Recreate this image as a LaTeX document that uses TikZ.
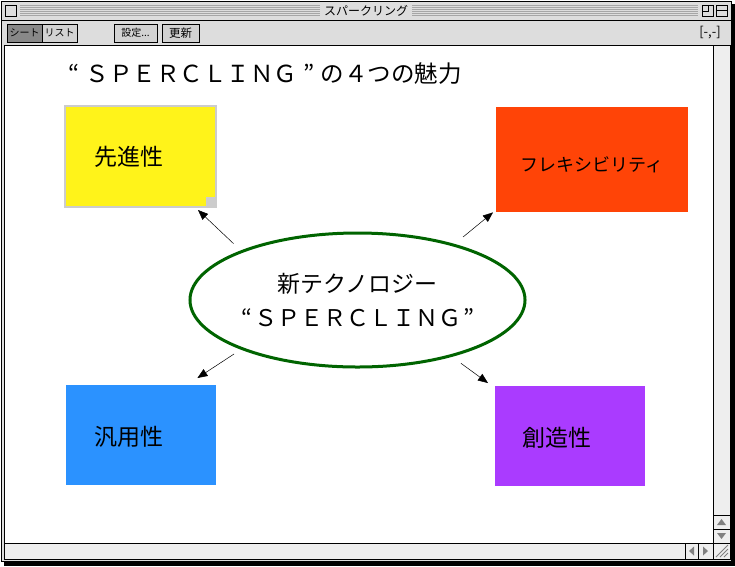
\documentclass[tikz,border=0pt]{standalone}
\usepackage{fontspec}
\newfontfamily\jp{Noto Sans CJK JP}
\usetikzlibrary{arrows.meta,shapes.geometric}
\definecolor{chrome}{HTML}{DDDDDD}
\definecolor{track}{HTML}{EEEEEE}
\definecolor{pressed}{HTML}{888888}
\definecolor{boxyel}{HTML}{FFF31A}
\definecolor{boxorg}{HTML}{FF4407}
\definecolor{boxblu}{HTML}{2B92FF}
\definecolor{boxpur}{HTML}{AA3BFF}
\definecolor{ellgrn}{HTML}{006400}
\newcommand\wq[2][1em]{\makebox[#1][c]{#2}}
\begin{document}
\begin{tikzpicture}[x=1pt,y=-1pt,every node/.style={font=\jp},
  box/.style={rectangle,anchor=north west,inner sep=0pt},
  lbl/.style={anchor=west,inner sep=0pt,font={\jp\fontsize{23}{28}\selectfont}},
  small/.style={inner sep=0pt,font={\jp\fontsize{10}{12}\selectfont}},
  btn/.style={draw=black,line width=0.8pt,fill=gray!35},
  arr/.style={-{Triangle[length=10pt,width=8pt]},line width=0.5pt}]
  \useasboundingbox (0,0) rectangle (735,566);
  % window frame
  \fill[black] (4,4) rectangle (735,566);
  \draw[fill=chrome,line width=1pt] (1,1) rectangle (731,561);
  \foreach \y in {5,7,...,15} {
    \draw[gray!70,line width=0.7pt] (20,\y) -- (320,\y);
    \draw[gray!70,line width=0.7pt] (412,\y) -- (698,\y);
  }
  \node[small,font={\jp\fontsize{12}{13}\selectfont}] (wintitle) at (366,10.5) {スパークリング};
  \draw[fill=gray!25,line width=0.8pt] (5,5) rectangle (16,16);
  \draw[line width=0.8pt] (702,5) rectangle (713,16);
  \draw[line width=0.8pt] (702,5) rectangle (708,11);
  \draw[line width=0.8pt] (716,5) rectangle (727,16);
  \draw[line width=0.8pt] (716,10.5) -- (727,10.5);
  \draw[line width=0.8pt] (1,20) -- (731,20);
  % toolbar
  \draw[btn,fill=pressed] (7,24) rectangle (42,42);
  \draw[btn] (42,24) rectangle (77,42);
  \draw[btn] (114,24) rectangle (157,42);
  \draw[btn] (162,24) rectangle (199,42);
  \node[small] (sheet) at (24.5,33) {シート};
  \node[small] (list) at (59.5,33) {リスト};
  \node[small] (setup) at (135.5,33) {設定...};
  \node[small,font={\jp\fontsize{11.5}{12}\selectfont}] (renew) at (180.5,33) {更新};
  \node[small,font={\jp\fontsize{13}{14}\selectfont}] (pos) at (710,33) {[-,-]};
  % content and scroll bars
  \draw[fill=white,line width=0.8pt] (4,45) rectangle (713,543);
  \draw[fill=track,line width=0.8pt] (713,45) rectangle (730,543);
  \draw[line width=0.6pt] (713,515) -- (730,515) (713,529) -- (730,529);
  \fill[gray] (721.5,519) -- (726,525) -- (717,525) -- cycle;
  \fill[gray] (717,533) -- (726,533) -- (721.5,539) -- cycle;
  \draw[fill=track,line width=0.8pt] (4,543) rectangle (713,559);
  \draw[line width=0.6pt] (685,543) -- (685,559) (698,543) -- (698,559);
  \fill[gray] (689,551) -- (694,546.5) -- (694,555.5) -- cycle;
  \fill[gray] (708,551) -- (703,546.5) -- (703,555.5) -- cycle;
  \draw[fill=track,line width=0.8pt] (713,543) rectangle (730,559);
  \foreach \d in {0,4,8} {
    \draw[gray,line width=0.8pt] (716+\d,557) -- (728,545+\d);
  }
  % heading
  \node[anchor=west,inner sep=0pt,font={\jp\fontsize{23.5}{28}\selectfont}] (heading) at (62,74)
    {\wq{“}ＳＰＥＲＣＬＩＮＧ\wq{”}の４つの魅力};
  % four boxes
  \node[box,fill=boxyel,draw=gray!40,line width=2pt,minimum width=151pt,minimum height=101pt] (adv) at (64,105) {};
  \fill[gray!40] ([shift={(-11,-11)}]adv.south east) rectangle (adv.south east);
  \node[box,fill=boxorg,minimum width=192pt,minimum height=105pt] (flex) at (496,107) {};
  \node[box,fill=boxblu,minimum width=150pt,minimum height=100pt] (gen) at (66,385) {};
  \node[box,fill=boxpur,minimum width=150pt,minimum height=100pt] (cre) at (495,386) {};
  \node[lbl] (advtxt) at ([xshift=30pt]adv.west) {先進性};
  \node[inner sep=0pt,font={\jp\fontsize{18}{20}\selectfont}] (flextxt) at ([shift={(0,5)}]flex.center) {フレキシビリティ};
  \node[lbl] (gentxt) at ([shift={(28,2)}]gen.west) {汎用性};
  \node[lbl] (cretxt) at ([shift={(27,2)}]cre.west) {創造性};
  % centre
  \node[ellipse,draw=ellgrn,line width=3pt,minimum width=330pt,minimum height=134pt,inner sep=0pt,
    align=center,font={\jp\fontsize{23}{34}\selectfont}] (core) at (357.5,300)
    {新テクノロジー\\\wq[0.65em]{“}ＳＰＥＲＣＬＩＮＧ\wq[0.65em]{”}};
  \draw[arr,shorten <=10pt] (core.157) -- ([shift={(-19,2)}]adv.south east);
  \draw[arr,shorten <=11pt] (core.30) -- ([shift={(-3,0)}]flex.south west);
  \draw[arr,shorten <=8pt] (core.203) -- ([shift={(-19,-7)}]gen.north east);
  \draw[arr,shorten <=11pt] (core.329) -- ([shift={(-7,-3)}]cre.north west);
\end{tikzpicture}
\end{document}
